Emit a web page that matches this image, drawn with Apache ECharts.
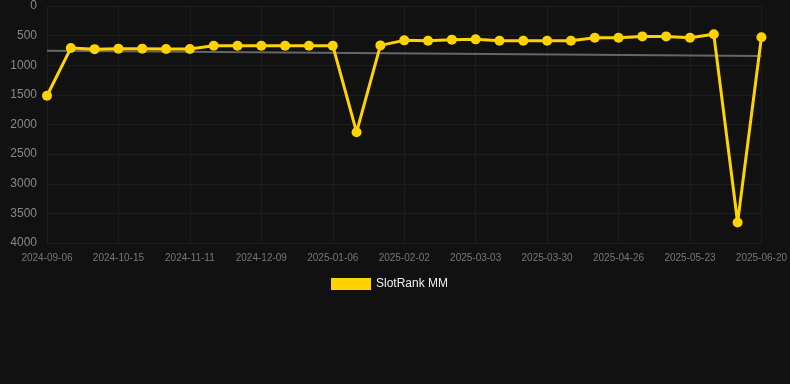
<!DOCTYPE html>
<html>
<head>
<meta charset="utf-8">
<script src="https://cdn.jsdelivr.net/npm/echarts@6/dist/echarts.min.js"></script>
<style>
  html, body { margin: 0; padding: 0; background: #111111; }
  #chart { width: 790px; height: 384px; }
</style>
</head>
<body>
<div id="chart"></div>
<script>
// 日期（类目轴）
const dates = [
  '2024-09-06', '2024-09-19', '2024-10-02', '2024-10-15', '2024-10-24', '2024-11-02',
  '2024-11-11', '2024-11-20', '2024-11-30', '2024-12-09', '2024-12-18', '2024-12-27',
  '2025-01-06', '2025-01-15', '2025-01-24', '2025-02-02', '2025-02-12', '2025-02-21',
  '2025-03-03', '2025-03-12', '2025-03-21', '2025-03-30', '2025-04-08', '2025-04-17',
  '2025-04-26', '2025-05-05', '2025-05-14', '2025-05-23', '2025-06-01', '2025-06-11',
  '2025-06-20'
];

// 排名
const rankValues = [
  1515, 710, 728, 720, 720, 725,
  725, 670, 670, 670, 670, 670,
  670, 2130, 665, 580, 585, 568,
  563, 585, 585, 585, 585, 535,
  535, 513, 513, 535, 478, 3655,
  528
];

// 趋势线两端
const trendStart = 754;
const trendEnd = 844;

const yTicks = [0, 500, 1000, 1500, 2000, 2500, 3000, 3500, 4000];

const trendData = dates.map((d, i) => {
  if (i === 0) return trendStart;
  if (i === dates.length - 1) return trendEnd;
  return null;
});

const myChart = echarts.init(document.getElementById('chart'));

const option = {
  backgroundColor: '#111111',
  animation: false,
  grid: {
    left: 47,
    right: 28,
    top: 6,
    bottom: 141,
  },
  legend: {
    top: 273,
    left: 326,
    itemWidth: 40,
    itemHeight: 12,
    itemGap: 10,
    icon: 'rect',
    data: ['SlotRank MM'],
    textStyle: {
      color: '#eeeeee',
      fontSize: 12,
      fontFamily: 'Liberation Sans, Arial, sans-serif',
    },
  },
  xAxis: {
    type: 'category',
    data: dates,
    boundaryGap: false,
    axisLine: { show: false },
    axisTick: { show: false },
    axisLabel: {
      interval: 2,
      color: '#777777',
      fontSize: 10,
      margin: 10,
      fontFamily: 'Liberation Sans, Arial, sans-serif',
    },
    splitLine: {
      show: true,
      interval: 2,
      lineStyle: { color: '#1c1c1c', width: 1 },
    },
  },
  yAxis: {
    type: 'value',
    inverse: true,
    min: yTicks[0],
    max: yTicks[yTicks.length - 1],
    interval: 500,
    axisLine: { show: false },
    axisTick: { show: false },
    axisLabel: {
      color: '#888888',
      fontSize: 12,
      margin: 10,
      formatter: v => String(v),
      fontFamily: 'Liberation Sans, Arial, sans-serif',
    },
    splitLine: {
      lineStyle: { color: '#1e1e1e', width: 1 },
    },
  },
  series: [
    {
      name: 'trend',
      type: 'line',
      data: trendData,
      connectNulls: true,
      symbol: 'none',
      silent: true,
      lineStyle: { color: '#666666', width: 2 },
      z: 1,
    },
    {
      name: 'SlotRank MM',
      type: 'line',
      data: rankValues,
      symbol: 'circle',
      symbolSize: 10,
      itemStyle: { color: '#ffd200' },
      lineStyle: { color: '#ffd200', width: 3 },
      z: 2,
    },
  ],
};

myChart.setOption(option);
</script>
</body>
</html>
